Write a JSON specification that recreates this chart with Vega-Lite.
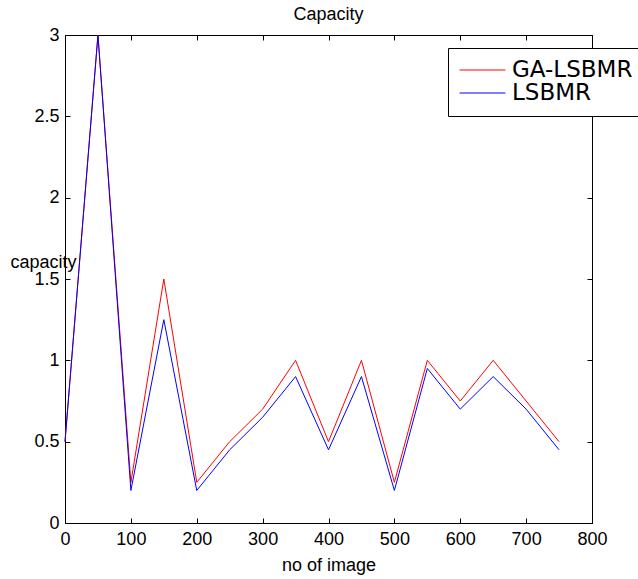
{
  "$schema": "https://vega.github.io/schema/vega-lite/v6.json",
  "width": 527,
  "height": 488,
  "autosize": {"type": "none"},
  "padding": {"left": 65, "top": 35, "right": 46, "bottom": 56},
  "background": "white",
  "config": {
    "view": {"stroke": "black", "strokeWidth": 1},
    "font": "Liberation Sans",
    "axis": {"grid": false, "domainColor": "black", "tickColor": "black", "labelColor": "black", "titleColor": "black", "labelFont": "Liberation Sans", "titleFont": "Liberation Sans", "titleFontWeight": "normal", "labelFlush": false}
  },
  "title": {"text": "Capacity", "fontSize": 18, "fontWeight": "normal", "font": "Liberation Sans", "offset": 2, "color": "black"},
  "data": {"values": [
    {"x": 0, "series": "GA-LSBMR", "y": 0.5},
    {"x": 50, "series": "GA-LSBMR", "y": 3},
    {"x": 100, "series": "GA-LSBMR", "y": 0.25},
    {"x": 150, "series": "GA-LSBMR", "y": 1.5},
    {"x": 200, "series": "GA-LSBMR", "y": 0.25},
    {"x": 250, "series": "GA-LSBMR", "y": 0.5},
    {"x": 300, "series": "GA-LSBMR", "y": 0.7},
    {"x": 350, "series": "GA-LSBMR", "y": 1.0},
    {"x": 400, "series": "GA-LSBMR", "y": 0.5},
    {"x": 450, "series": "GA-LSBMR", "y": 1.0},
    {"x": 500, "series": "GA-LSBMR", "y": 0.25},
    {"x": 550, "series": "GA-LSBMR", "y": 1.0},
    {"x": 600, "series": "GA-LSBMR", "y": 0.75},
    {"x": 650, "series": "GA-LSBMR", "y": 1.0},
    {"x": 700, "series": "GA-LSBMR", "y": 0.75},
    {"x": 750, "series": "GA-LSBMR", "y": 0.5},
    {"x": 0, "series": "LSBMR", "y": 0.5},
    {"x": 50, "series": "LSBMR", "y": 3},
    {"x": 100, "series": "LSBMR", "y": 0.2},
    {"x": 150, "series": "LSBMR", "y": 1.25},
    {"x": 200, "series": "LSBMR", "y": 0.2},
    {"x": 250, "series": "LSBMR", "y": 0.45},
    {"x": 300, "series": "LSBMR", "y": 0.65},
    {"x": 350, "series": "LSBMR", "y": 0.9},
    {"x": 400, "series": "LSBMR", "y": 0.45},
    {"x": 450, "series": "LSBMR", "y": 0.9},
    {"x": 500, "series": "LSBMR", "y": 0.2},
    {"x": 550, "series": "LSBMR", "y": 0.95},
    {"x": 600, "series": "LSBMR", "y": 0.7},
    {"x": 650, "series": "LSBMR", "y": 0.9},
    {"x": 700, "series": "LSBMR", "y": 0.7},
    {"x": 750, "series": "LSBMR", "y": 0.45}
  ]},
  "resolve": {"axis": {"x": "independent", "y": "independent"}},
  "layer": [
    {
      "mark": {"type": "line", "strokeWidth": 1},
      "encoding": {
        "x": {"field": "x", "type": "quantitative", "scale": {"domain": [0, 800], "nice": false},
          "axis": {"orient": "bottom", "values": [0,100,200,300,400,500,600,700,800], "tickSize": -5, "labelPadding": 12, "labelFontSize": 18, "title": "no of image", "titleFontSize": 18, "titlePadding": 8, "domain": false}},
        "y": {"field": "y", "type": "quantitative", "scale": {"domain": [0, 3], "nice": false},
          "axis": {"orient": "left", "values": [0,0.5,1,1.5,2,2.5,3], "format": "~g", "tickSize": -5, "labelPadding": 11, "labelFontSize": 18, "domain": false,
            "title": "capacity", "titleFontSize": 18, "titleAngle": 0, "titleAlign": "left", "titleBaseline": "middle", "titleX": -55, "titleY": 227}},
        "color": {"field": "series", "type": "nominal", "scale": {"domain": ["GA-LSBMR", "LSBMR"], "range": ["#ff0000", "#0000ff"]},
          "legend": {"title": null, "orient": "none", "legendX": 383, "legendY": 13, "strokeColor": "black", "fillColor": "white", "padding": 11,
            "labelFontSize": 23, "labelFont": "DejaVu Sans", "labelColor": "black", "symbolType": "stroke", "symbolSize": 2100, "symbolStrokeWidth": 1, "rowPadding": 0, "clipHeight": 22, "labelOffset": 6,
            "encode": {"symbols": {"update": {"stroke": {"scale": "color", "field": "value"}}}}}}
      }
    },
    {
      "mark": {"type": "line", "opacity": 0},
      "encoding": {
        "x": {"field": "x", "type": "quantitative", "axis": {"orient": "top", "values": [0,100,200,300,400,500,600,700,800], "tickSize": -5, "labels": false, "title": null, "domain": false}},
        "y": {"field": "y", "type": "quantitative", "axis": {"orient": "right", "values": [0,0.5,1,1.5,2,2.5,3], "tickSize": -5, "labels": false, "title": null, "domain": false}},
        "detail": {"field": "series"}
      }
    }
  ]
}
